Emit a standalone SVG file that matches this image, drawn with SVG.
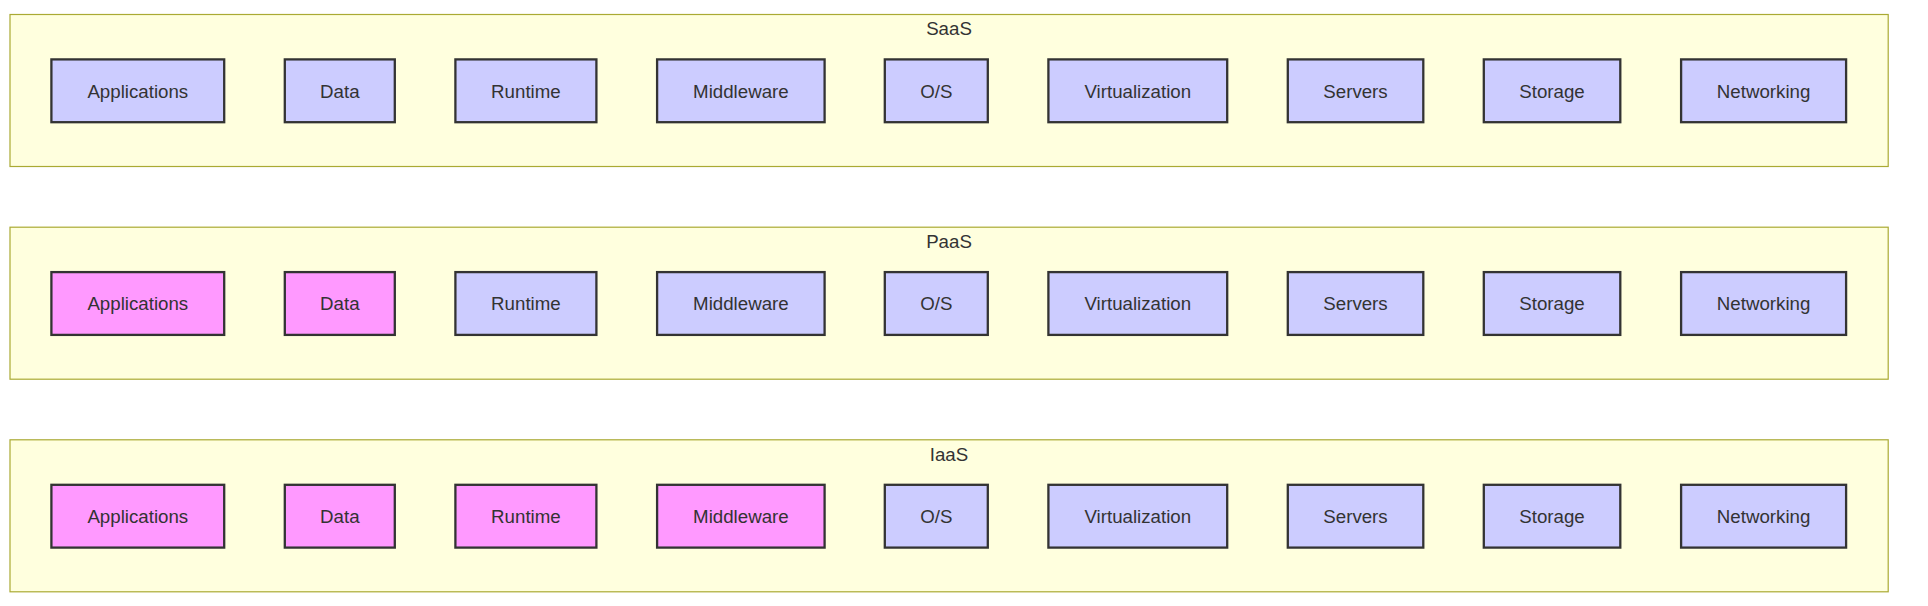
<svg xmlns="http://www.w3.org/2000/svg" width="1928" height="606" viewBox="0 0 1928 606">
<style>
.bg{fill:#ffffff}
.cluster rect{fill:#ffffde;stroke:#aaaa33;stroke-width:1.2}
.cluster text{font-family:"Liberation Sans",Arial,Helvetica,sans-serif;font-size:18.7px;fill:#333333;text-anchor:middle}
.node rect{stroke:#333333;stroke-width:2.3}
.node text{font-family:"Liberation Sans",Arial,Helvetica,sans-serif;font-size:18.7px;fill:#333333;text-anchor:middle}
.blue rect{fill:#ccccff}
.pink rect{fill:#ff99ff}
</style>
<rect class="bg" x="0" y="0" width="1928" height="606"/>
<g id="cluster-SaaS" class="cluster"><rect x="10" y="14.5" width="1878.2" height="152"/><text x="949" y="35">SaaS</text></g>
<g id="cluster-PaaS" class="cluster"><rect x="10" y="227.2" width="1878.2" height="152"/><text x="949" y="248">PaaS</text></g>
<g id="cluster-IaaS" class="cluster"><rect x="10" y="439.8" width="1878.2" height="152"/><text x="949" y="461">IaaS</text></g>
<g id="connectors"></g>
<g id="saas-nodes">
<g id="S_Applications" class="node blue"><rect x="51.4" y="59.4" width="172.8" height="62.8"/><text x="137.8" y="97.5">Applications</text></g>
<g id="S_Data" class="node blue"><rect x="284.8" y="59.4" width="110" height="62.8"/><text x="339.8" y="97.5">Data</text></g>
<g id="S_Runtime" class="node blue"><rect x="455.4" y="59.4" width="141" height="62.8"/><text x="525.9" y="97.5">Runtime</text></g>
<g id="S_Middleware" class="node blue"><rect x="657.1" y="59.4" width="167.5" height="62.8"/><text x="740.9" y="97.5">Middleware</text></g>
<g id="S_OS" class="node blue"><rect x="884.8" y="59.4" width="103" height="62.8"/><text x="936.3" y="97.5">O/S</text></g>
<g id="S_Virtualization" class="node blue"><rect x="1048.4" y="59.4" width="178.8" height="62.8"/><text x="1137.8" y="97.5">Virtualization</text></g>
<g id="S_Servers" class="node blue"><rect x="1287.8" y="59.4" width="135.5" height="62.8"/><text x="1355.5" y="97.5">Servers</text></g>
<g id="S_Storage" class="node blue"><rect x="1483.8" y="59.4" width="136.5" height="62.8"/><text x="1552" y="97.5">Storage</text></g>
<g id="S_Networking" class="node blue"><rect x="1681.1" y="59.4" width="165" height="62.8"/><text x="1763.6" y="97.5">Networking</text></g>
</g>
<g id="paas-nodes">
<g id="P_Applications" class="node pink"><rect x="51.4" y="272.1" width="172.8" height="62.8"/><text x="137.8" y="310.2">Applications</text></g>
<g id="P_Data" class="node pink"><rect x="284.8" y="272.1" width="110" height="62.8"/><text x="339.8" y="310.2">Data</text></g>
<g id="P_Runtime" class="node blue"><rect x="455.4" y="272.1" width="141" height="62.8"/><text x="525.9" y="310.2">Runtime</text></g>
<g id="P_Middleware" class="node blue"><rect x="657.1" y="272.1" width="167.5" height="62.8"/><text x="740.9" y="310.2">Middleware</text></g>
<g id="P_OS" class="node blue"><rect x="884.8" y="272.1" width="103" height="62.8"/><text x="936.3" y="310.2">O/S</text></g>
<g id="P_Virtualization" class="node blue"><rect x="1048.4" y="272.1" width="178.8" height="62.8"/><text x="1137.8" y="310.2">Virtualization</text></g>
<g id="P_Servers" class="node blue"><rect x="1287.8" y="272.1" width="135.5" height="62.8"/><text x="1355.5" y="310.2">Servers</text></g>
<g id="P_Storage" class="node blue"><rect x="1483.8" y="272.1" width="136.5" height="62.8"/><text x="1552" y="310.2">Storage</text></g>
<g id="P_Networking" class="node blue"><rect x="1681.1" y="272.1" width="165" height="62.8"/><text x="1763.6" y="310.2">Networking</text></g>
</g>
<g id="iaas-nodes">
<g id="I_Applications" class="node pink"><rect x="51.4" y="484.8" width="172.8" height="62.8"/><text x="137.8" y="522.9">Applications</text></g>
<g id="I_Data" class="node pink"><rect x="284.8" y="484.8" width="110" height="62.8"/><text x="339.8" y="522.9">Data</text></g>
<g id="I_Runtime" class="node pink"><rect x="455.4" y="484.8" width="141" height="62.8"/><text x="525.9" y="522.9">Runtime</text></g>
<g id="I_Middleware" class="node pink"><rect x="657.1" y="484.8" width="167.5" height="62.8"/><text x="740.9" y="522.9">Middleware</text></g>
<g id="I_OS" class="node blue"><rect x="884.8" y="484.8" width="103" height="62.8"/><text x="936.3" y="522.9">O/S</text></g>
<g id="I_Virtualization" class="node blue"><rect x="1048.4" y="484.8" width="178.8" height="62.8"/><text x="1137.8" y="522.9">Virtualization</text></g>
<g id="I_Servers" class="node blue"><rect x="1287.8" y="484.8" width="135.5" height="62.8"/><text x="1355.5" y="522.9">Servers</text></g>
<g id="I_Storage" class="node blue"><rect x="1483.8" y="484.8" width="136.5" height="62.8"/><text x="1552" y="522.9">Storage</text></g>
<g id="I_Networking" class="node blue"><rect x="1681.1" y="484.8" width="165" height="62.8"/><text x="1763.6" y="522.9">Networking</text></g>
</g>
</svg>
